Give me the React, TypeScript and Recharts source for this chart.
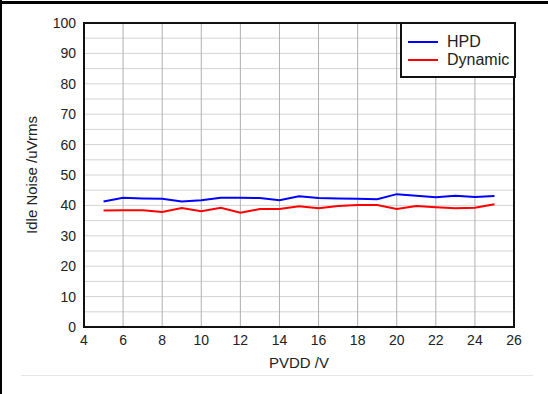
import React from "react";
import {
  LineChart,
  Line,
  XAxis,
  YAxis,
  CartesianGrid,
  ReferenceArea,
} from "recharts";

const pvdd = [5, 6, 7, 8, 9, 10, 11, 12, 13, 14, 15, 16, 17, 18, 19, 20, 21, 22, 23, 24, 25];
const hpd = [41.3, 42.5, 42.3, 42.2, 41.3, 41.7, 42.5, 42.5, 42.4, 41.7, 43.0, 42.4, 42.3, 42.2, 42.0, 43.7, 43.2, 42.7, 43.2, 42.8, 43.1];
const dynamic = [38.3, 38.4, 38.4, 37.8, 39.1, 38.1, 39.2, 37.6, 38.8, 38.8, 39.7, 39.1, 39.8, 40.1, 40.1, 38.8, 39.8, 39.4, 39.1, 39.2, 40.4];
const xTicks = [4, 6, 8, 10, 12, 14, 16, 18, 20, 22, 24, 26];
const yTicks = [0, 10, 20, 30, 40, 50, 60, 70, 80, 90, 100];
const yGrid = [0, 5, 10, 15, 20, 25, 30, 35, 40, 45, 50, 55, 60, 65, 70, 75, 80, 85, 90, 95, 100];
const seriesNames = ["HPD", "Dynamic"];
const seriesColors = ["#0000ff", "#ff0000"];

const data = pvdd.map((v, i) => ({ pvdd: v, hpd: hpd[i], dynamic: dynamic[i] }));

const FONT = "'Liberation Sans', Arial, sans-serif";

const LegendBox = () => (
  <div
    style={{
      position: "absolute",
      left: 400,
      top: 22,
      width: 116,
      height: 56,
      boxSizing: "border-box",
      border: "2px solid #111",
      background: "#fff",
      fontFamily: FONT,
      fontSize: 16,
      color: "#222",
      paddingTop: 9,
    }}
  >
    {seriesNames.map((name, i) => (
      <div key={name} style={{ display: "flex", alignItems: "center", height: 18 }}>
        <div style={{ width: 30, height: 2, background: seriesColors[i], marginLeft: 6, marginRight: 9 }} />
        <span>{name}</span>
      </div>
    ))}
  </div>
);

const hGen = (props: any) => {
  const y = props && props.yAxis;
  if (y && typeof y.scale === "function") {
    return yGrid.map((v) => y.scale(v));
  }
  const off = props.offset;
  return yGrid.map((v) => off.top + off.height * (1 - v / 100));
};

export default function App() {
  return (
    <div style={{ position: "absolute", left: 0, top: 0, width: 548, height: 394, background: "#fff" }}>
      <div style={{ position: "absolute", left: 0, top: 1, width: 548, height: 3, background: "#000" }} />
      <div style={{ position: "absolute", left: 0, top: 0, width: 2, height: 394, background: "#000" }} />
      <div style={{ position: "absolute", left: 21, top: 375, width: 512, height: 1, background: "#e6e6e6" }} />
      <div style={{ position: "absolute", left: 0, top: 0 }}>
        <LineChart
          width={548}
          height={394}
          data={data}
          margin={{ top: 23, right: 34, bottom: 0, left: 0 }}
        >
          <CartesianGrid
            horizontal={true}
            vertical={false}
            horizontalCoordinatesGenerator={hGen}
            stroke="#d4d4d4"
            strokeWidth={1}
          />
          <CartesianGrid
            horizontal={false}
            vertical={true}
            stroke="#b0b0b0"
            strokeWidth={1}
          />
          <XAxis
            dataKey="pvdd"
            type="number"
            domain={[4, 26]}
            ticks={xTicks}
            height={67}
            axisLine={false}
            tickLine={false}
            tickSize={6}
            tick={{ fill: "#222", fontSize: 14, fontFamily: FONT }}
            label={{
              value: "PVDD /V",
              position: "insideTop",
              offset: 30,
              fill: "#222",
              fontSize: 15,
              fontFamily: FONT,
            }}
          />
          <YAxis
            type="number"
            domain={[0, 100]}
            ticks={yTicks}
            width={84}
            axisLine={false}
            tickLine={false}
            tick={{ fill: "#222", fontSize: 14, fontFamily: FONT }}
            label={{
              value: "Idle Noise /uVrms",
              angle: -90,
              position: "insideLeft",
              offset: 32,
              style: { textAnchor: "middle" },
              fill: "#222",
              fontSize: 15,
              fontFamily: FONT,
            }}
          />
          <Line
            type="linear"
            dataKey="hpd"
            name={seriesNames[0]}
            stroke={seriesColors[0]}
            strokeWidth={2}
            dot={false}
            isAnimationActive={false}
          />
          <Line
            type="linear"
            dataKey="dynamic"
            name={seriesNames[1]}
            stroke={seriesColors[1]}
            strokeWidth={2}
            dot={false}
            isAnimationActive={false}
          />
          <ReferenceArea
            x1={4}
            x2={26}
            y1={0}
            y2={100}
            fill="none"
            fillOpacity={0}
            stroke="#111"
            strokeWidth={2}
          />
        </LineChart>
      </div>
      <LegendBox />
    </div>
  );
}
